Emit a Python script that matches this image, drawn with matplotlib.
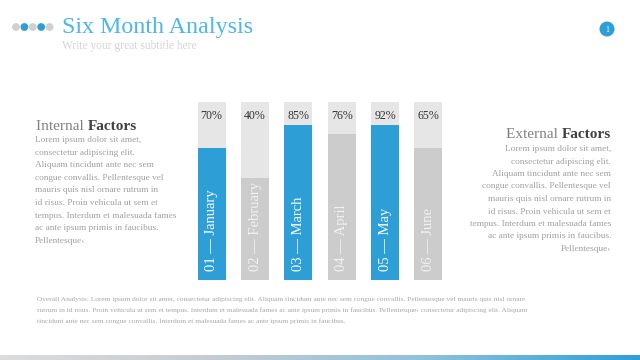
import numpy as np
import matplotlib
matplotlib.use("Agg")
import matplotlib.pyplot as plt
from matplotlib.patches import Circle
from matplotlib.colors import LinearSegmentedColormap

# ---- data ----
months = ["01 — January", "02 — February", "03 — March", "04 — April", "05 — May", "06 — June"]
pct_labels = ["70%", "40%", "85%", "76%", "92%", "65%"]
fill_heights = [74, 57, 87, 82, 87, 74]   # filled bar height (% of track), as drawn
highlight = [True, False, True, False, True, False]

title = "Six Month Analysis"
subtitle = "Write your great subtitle here"
body_lines = ["Lorem ipsum dolor sit amet,",
              "consectetur adipiscing elit.",
              "Aliquam tincidunt ante nec sem",
              "congue convallis. Pellentesque vel",
              "mauris quis nisl ornare rutrum in",
              "id risus. Proin vehicula ut sem et",
              "tempus. Interdum et malesuada fames",
              "ac ante ipsum primis in faucibus.",
              "Pellentesque\u2039"]
overall_lines = [
    "Overall Analysis: Lorem ipsum dolor sit amet, consectetur adipiscing elit. Aliquam tincidunt ante nec sem congue convallis. Pellentesque vel mauris quis nisl ornare",
    "rutrum in id risus. Proin vehicula ut sem et tempus. Interdum et malesuada fames ac ante ipsum primis in faucibus. Pellentesque\u2039 consectetur adipiscing elit. Aliquam",
    "tincidunt ante nec sem congue convallis. Interdum et malesuada fames ac ante ipsum primis in faucibus.",
]

BLUE = "#2e9fd6"
GRAY = "#cccccc"
TRACK = "#e6e6e6"
FONT = "Liberation Serif"

fig = plt.figure(figsize=(6.4, 3.6), dpi=100)
fig.patch.set_facecolor("white")

# page axes in pixel coordinates
pg = fig.add_axes([0, 0, 1, 1])
pg.set_xlim(0, 640)
pg.set_ylim(360, 0)
pg.axis("off")

# decorative dots
dot_cols = ["#d0d0d0", BLUE, "#d0d0d0", BLUE, "#d0d0d0"]
for i, c in enumerate(dot_cols):
    pg.add_patch(Circle((16 + i * 8.4, 27), 3.9, color=c, lw=0))

pg.text(62, 28, title, fontsize=17.3, color="#4db6ea", family=FONT, va="center", ha="left")
pg.text(62, 46, subtitle, fontsize=8.3, color="#d4d4d4", family=FONT, va="center", ha="left")

# page number
pg.add_patch(Circle((607, 29), 7.5, color=BLUE, lw=0))
pg.text(607, 29.5, "1", fontsize=5.5, color="white", family=FONT, ha="center", va="center")

# Internal factors
t1 = pg.text(36, 127, "Internal ", fontsize=11, color="#808080", family=FONT, va="center", ha="left")
pg.annotate("Factors", xy=(1, 0), xycoords=t1, fontsize=11, color="#404040",
            family=FONT, weight="bold", va="bottom", ha="left")
for i, ln in enumerate(body_lines):
    pg.text(35, 140 + i * 12.6, ln, fontsize=6.7, color="#a0a0a0", family=FONT, va="center", ha="left")

# External factors
t2 = pg.text(611, 134, "Factors", fontsize=11, color="#404040", family=FONT,
             weight="bold", va="center", ha="right")
pg.annotate("External ", xy=(0, 0), xycoords=t2, fontsize=11, color="#808080",
            family=FONT, va="bottom", ha="right")
for i, ln in enumerate(body_lines):
    pg.text(611, 149 + i * 12.5, ln, fontsize=6.7, color="#a0a0a0", family=FONT, va="center", ha="right")

# overall analysis
for i, ln in enumerate(overall_lines):
    pg.text(37, 300 + i * 10.6, ln, fontsize=5.3, color="#a8a8a8", family=FONT, va="center", ha="left")

# bottom gradient strip
cmap = LinearSegmentedColormap.from_list("g", ["#dcdcdc", "#c4ccd2", "#8fc1dc", BLUE])
grad = np.linspace(0, 1, 256).reshape(1, -1)
pg.imshow(grad, cmap=cmap, extent=[0, 640, 360, 355], aspect="auto", zorder=0)
pg.set_xlim(0, 640)
pg.set_ylim(360, 0)

# ---- bar chart ----
ax = fig.add_axes([190 / 640, 80 / 360, 260 / 640, 178.3 / 360])
ax.set_xlim(-0.5, len(months) - 0.5)
ax.set_ylim(0, 100)
ax.axis("off")
x = np.arange(len(months))
bw = 28 / 43.33
ax.bar(x, [100] * len(months), width=bw, color=TRACK, lw=0)
ax.bar(x, fill_heights, width=bw, color=[BLUE if h else GRAY for h in highlight], lw=0)
for xi, lab, m, h in zip(x, pct_labels, months, highlight):
    ax.text(xi, 92, lab, ha="center", va="center", fontsize=8.6, color="#333333", family=FONT)
    ax.text(xi, 5, m, ha="center", va="bottom", rotation=90, fontsize=10.5,
            color="white" if h else "#f2f2f2", family=FONT)

fig.savefig("out.png", dpi=100)
